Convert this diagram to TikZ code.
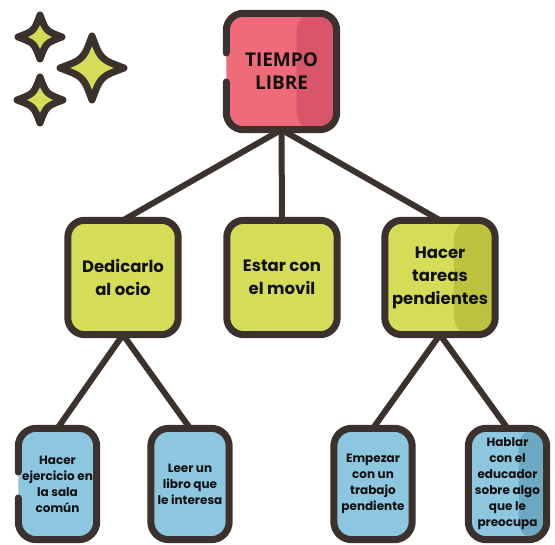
\documentclass[tikz,border=0pt]{standalone}
\usepackage{fontspec}
\setmainfont{Poppins}
\newfontfamily\osans{Open Sans}
\usetikzlibrary{backgrounds}
\definecolor{ink}{HTML}{3C322D}
\definecolor{txt}{HTML}{111111}
\definecolor{pinkL}{HTML}{F06B7A}
\definecolor{pinkD}{HTML}{D9566A}
\definecolor{greenL}{HTML}{D5DD58}
\definecolor{greenD}{HTML}{BCC23D}
\definecolor{blueL}{HTML}{8CC6DF}
\definecolor{blueD}{HTML}{6DA8C2}
\newcommand\boxfill[5]{% name, light, dark, dark width, radius
  \fill[#2, rounded corners=#5] (#1.south west) rectangle (#1.north east);
  \begin{scope}
    \clip[rounded corners=#5] (#1.south west) rectangle (#1.north east);
    \fill[#3, rounded corners=#5] ([xshift=-#4]#1.north east) rectangle ([xshift=20pt]#1.south east);
  \end{scope}}
\newcommand\boxline[2]{% name, radius
  \draw[outline, rounded corners=#2] (#1.south west) rectangle (#1.north east);}
\newcommand\boxgapline[4]{% name, radius, gap top (pt above center), gap bottom (pt below center)
  \draw[outline, rounded corners=#2] ([yshift=-#4]#1.west) -- (#1.south west) -- (#1.south east) -- (#1.north east) -- (#1.north west) -- ([yshift=#3]#1.west);}
\newcommand\sparkle[3]{% cx, cy, r
  \draw[star] (#1,#2-#3) .. controls (#1+0.27*#3,#2-0.27*#3) .. (#1+#3,#2)
    .. controls (#1+0.27*#3,#2+0.27*#3) .. (#1,#2+#3)
    .. controls (#1-0.27*#3,#2+0.27*#3) .. (#1-#3,#2)
    .. controls (#1-0.27*#3,#2-0.27*#3) .. cycle;}
\begin{document}
\begin{tikzpicture}[x=1pt,y=-1pt,
  outline/.style={draw=ink, line width=7pt, line cap=round, line join=round},
  conn/.style={draw=ink, line width=6pt},
  star/.style={draw=ink, fill=greenL, line width=7pt, line join=round},
  boxnode/.style={rectangle, draw=none, inner sep=0pt, align=center, text=txt},
  topbox/.style={boxnode, minimum width=110pt, minimum height=116pt,
    font=\osans\bfseries\fontsize{19}{23}\selectfont},
  midbox/.style={boxnode, minimum width=110pt, minimum height=114pt,
    font=\bfseries\fontsize{16.5}{23}\selectfont},
  lowbox/.style={boxnode, minimum width=78pt, minimum height=111pt,
    font=\bfseries\fontsize{12}{16}\selectfont}]
\useasboundingbox (0,0) rectangle (555,545);

\node[topbox] (top) at (281.5,71.5) {TIEMPO\\LIBRE};
\node[midbox] (ocio) at (123,277.5) {Dedicarlo\\al ocio};
\node[midbox] (movil) at (282,277.5) {Estar con\\el movil};
\node[midbox] (tareas) at (440,277.5) {Hacer\\tareas\\pendientes};
\node[lowbox] (ejer) at (57.5,484) {Hacer\\ejercicio en\\la sala\\común};
\node[lowbox] (libro) at (190,484) {Leer un\\libro que\\le interesa};
\node[lowbox] (trabajo) at (373,484) {Empezar\\con un\\trabajo\\pendiente};
\node[lowbox] (hablar) at (507.5,484) {Hablar\\con el\\educador\\sobre algo\\que le\\preocupa};

\begin{scope}[on background layer]
  \draw[conn] (top.south) -- (ocio.north);
  \draw[conn] (top.south) -- (movil.north);
  \draw[conn] (top.south) -- (tareas.north);
  \draw[conn] (ocio.south) -- (ejer.north);
  \draw[conn] (ocio.south) -- (libro.north);
  \draw[conn] (tareas.south) -- (trabajo.north);
  \draw[conn] (tareas.south) -- (hablar.north);

  \boxfill{top}{pinkL}{pinkD}{40pt}{17pt}
  \boxgapline{top}{17pt}{18.5pt}{10.5pt}
  \boxfill{ocio}{greenL}{greenD}{0pt}{17pt}
  \boxline{ocio}{17pt}
  \boxfill{movil}{greenL}{greenD}{0pt}{17pt}
  \boxline{movil}{17pt}
  \boxfill{tareas}{greenL}{greenD}{41pt}{17pt}
  \boxline{tareas}{17pt}
  \boxfill{ejer}{blueL}{blueD}{0pt}{18pt}
  \boxgapline{ejer}{18pt}{12pt}{14pt}
  \boxfill{libro}{blueL}{blueD}{0pt}{18pt}
  \boxline{libro}{18pt}
  \boxfill{trabajo}{blueL}{blueD}{0pt}{18pt}
  \boxline{trabajo}{18pt}
  \boxfill{hablar}{blueL}{blueD}{28pt}{18pt}
  \boxline{hablar}{18pt}
\end{scope}

\sparkle{40}{37}{22}
\sparkle{92}{68}{32}
\sparkle{40}{100}{23}
\end{tikzpicture}
\end{document}
